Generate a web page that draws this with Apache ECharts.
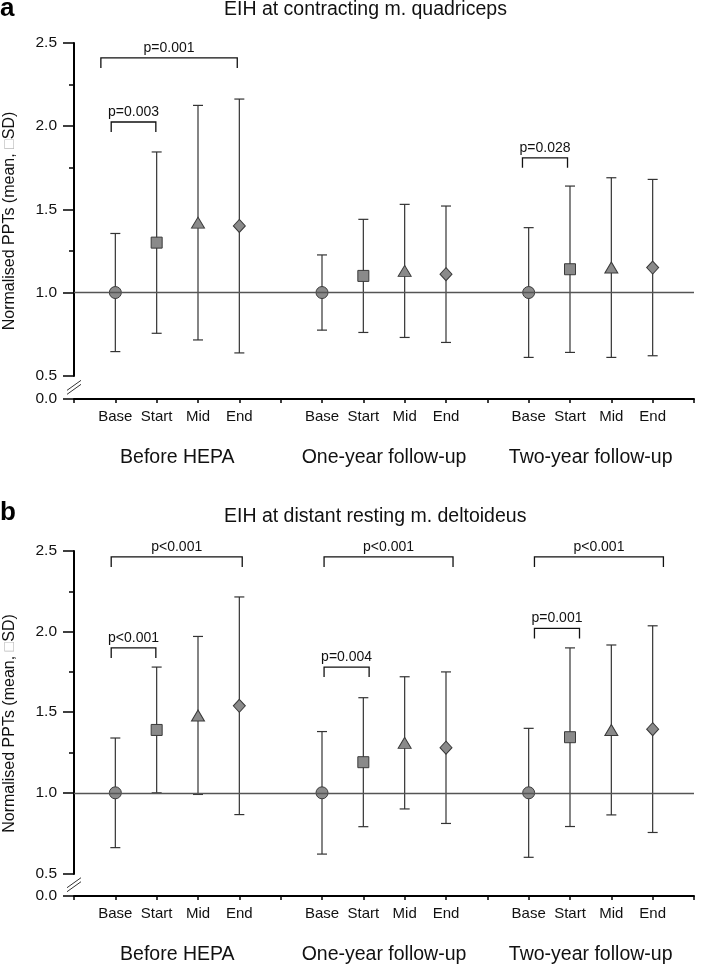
<!DOCTYPE html>
<html>
<head>
<meta charset="utf-8">
<script src="https://cdn.jsdelivr.net/npm/echarts@6/dist/echarts.min.js"></script>
<style>
  html, body { margin: 0; padding: 0; background: #fff; }
  #chart { width: 707px; height: 964px; }
</style>
</head>
<body>
<div id="chart"></div>
<script>
// x slots: 0..15, the measured points sit on 1-4, 6-9, 11-14
const groups = ['Before HEPA', 'One-year follow-up', 'Two-year follow-up'];
const timepoints = ['Base', 'Start', 'Mid', 'End'];
const xPos = [1, 2, 3, 4, 6, 7, 8, 9, 11, 12, 13, 14];
const tickLabels = ['', 'Base', 'Start', 'Mid', 'End', '', 'Base', 'Start', 'Mid', 'End', '', 'Base', 'Start', 'Mid', 'End', ''];
const shapes = ['circle', 'rect', 'triangle', 'diamond'];

// panel a: m. quadriceps
const quadMean = [1.00, 1.30, 1.42, 1.40, 1.00, 1.10, 1.13, 1.11, 1.00, 1.14, 1.15, 1.15];
const quadSD = [0.355, 0.545, 0.705, 0.763, 0.226, 0.34, 0.40, 0.41, 0.39, 0.50, 0.54, 0.53];
const quadBrackets = [[0.65, 3.95, 2.41], [0.9, 1.98, 2.025], [10.85, 11.94, 1.81]];
const quadPvals = ['p=0.001', 'p=0.003', 'p=0.028'];

// panel b: m. deltoideus
const deltMean = [1.00, 1.39, 1.48, 1.54, 1.00, 1.19, 1.31, 1.28, 1.00, 1.345, 1.39, 1.395];
const deltSD = [0.34, 0.39, 0.49, 0.675, 0.38, 0.40, 0.41, 0.47, 0.40, 0.554, 0.527, 0.641];
const deltBrackets = [[0.9, 4.07, 2.463], [0.9, 1.98, 1.899], [6.05, 9.17, 2.463], [6.05, 7.14, 1.78], [11.14, 14.26, 2.463], [11.14, 12.23, 2.02]];
const deltPvals = ['p<0.001', 'p<0.001', 'p<0.001', 'p=0.004', 'p<0.001', 'p=0.001'];

const FONT = 'Liberation Sans, Arial, sans-serif';
const chart = echarts.init(document.getElementById('chart'));

function errorBar(params, api) {
  const x = api.value(0);
  const top = api.coord([x, api.value(2)]);
  const bot = api.coord([x, api.value(1)]);
  const hw = 5;
  const style = { stroke: '#333', lineWidth: 1.2 };
  return {
    type: 'group',
    children: [
      { type: 'line', shape: { x1: top[0], y1: top[1], x2: bot[0], y2: bot[1] }, style },
      { type: 'line', shape: { x1: top[0] - hw, y1: top[1], x2: top[0] + hw, y2: top[1] }, style },
      { type: 'line', shape: { x1: bot[0] - hw, y1: bot[1], x2: bot[0] + hw, y2: bot[1] }, style }
    ]
  };
}

function bracketRenderer(labels) {
  return function (params, api) {
    const y = api.value(2);
    const p1 = api.coord([api.value(0), y]);
    const p2 = api.coord([api.value(1), y]);
    const leg = 10;
    return {
      type: 'group',
      children: [
        {
          type: 'polyline',
          shape: { points: [[p1[0], p1[1] + leg], p1, p2, [p2[0], p2[1] + leg]] },
          style: { stroke: '#111', lineWidth: 1.3, fill: null }
        },
        {
          type: 'text',
          style: {
            x: (p1[0] + p2[0]) / 2, y: p1[1] - 3,
            text: labels[params.dataIndex],
            align: 'center', verticalAlign: 'bottom',
            fontSize: 14, fontFamily: FONT, fill: '#111'
          }
        }
      ]
    };
  };
}

function symbolSize(val, params) {
  return [[12, 12], [11, 11], [13, 11], [12, 13]][params.dataIndex % 4];
}

function panelAxes(gi) {
  const x = {
    type: 'value', gridIndex: gi, min: 0, max: 15, interval: 1,
    axisLine: { lineStyle: { color: '#000', width: 2 } },
    axisTick: { length: 4, lineStyle: { color: '#000', width: 1.5 } },
    splitLine: { show: false },
    axisLabel: {
      formatter: v => tickLabels[v] || '', margin: 10,
      fontSize: 15, fontFamily: FONT, color: '#111'
    }
  };
  const xg = {
    type: 'category', gridIndex: gi, data: groups, position: 'bottom',
    axisLine: { show: false }, axisTick: { show: false },
    axisLabel: { interval: 0, hideOverlap: false, margin: 49, fontSize: 19.5, fontFamily: FONT, color: '#111' }
  };
  const y = {
    type: 'value', gridIndex: gi, min: 0, max: 2.5, interval: 0.5,
    breaks: [{ start: 0, end: 0.5, gap: 0.14 }],
    breakArea: { show: false },
    name: 'Normalised PPTs (mean, {box|\u25A1}SD)',
    nameLocation: 'middle', nameGap: 56,
    nameTextStyle: { fontSize: 16, fontFamily: FONT, color: '#111', rich: { box: { fontSize: 16, color: '#bbb', fontFamily: FONT } } },
    axisLine: { show: true, lineStyle: { color: '#000', width: 2 } },
    axisTick: { show: true, length: 11, lineStyle: { color: '#000', width: 1.5 } },
    minorTick: { show: true, splitNumber: 2, length: 5, lineStyle: { color: '#000', width: 1.5 } },
    splitLine: { show: false },
    axisLabel: {
      formatter: v => v.toFixed(1), margin: 17,
      fontSize: 15.5, fontFamily: FONT, color: '#111'
    }
  };
  return { x, xg, y };
}

function panelSeries(gi, mean, sd, brackets, pvals) {
  return [
    {
      type: 'custom', xAxisIndex: gi * 2, yAxisIndex: gi, z: 2,
      renderItem: errorBar,
      encode: { x: 0, y: [1, 2] },
      data: xPos.map((x, i) => [x, mean[i] - sd[i], mean[i] + sd[i]]),
      markLine: {
        silent: true, symbol: 'none', label: { show: false },
        lineStyle: { color: '#555', width: 1.3, type: 'solid' },
        data: [{ yAxis: 1 }]
      }
    },
    {
      type: 'scatter', xAxisIndex: gi * 2, yAxisIndex: gi, z: 3,
      symbol: (val, params) => shapes[params.dataIndex % 4],
      symbolSize: symbolSize,
      itemStyle: { color: '#8a8a8a', borderColor: '#3a3a3a', borderWidth: 1, opacity: 1 },
      data: xPos.map((x, i) => [x, mean[i]])
    },
    {
      type: 'custom', xAxisIndex: gi * 2, yAxisIndex: gi, z: 2,
      renderItem: bracketRenderer(pvals),
      encode: { x: [0, 1], y: 2 },
      data: brackets
    }
  ];
}

const A = panelAxes(0);
const B = panelAxes(1);

chart.setOption({
  animation: false,
  textStyle: { fontFamily: FONT },
  title: [
    { text: 'a', left: 0, top: -4, padding: 0, textStyle: { fontSize: 26, fontWeight: 'bold', color: '#000', fontFamily: FONT } },
    { text: 'EIH at contracting m. quadriceps', left: 224, top: 0, padding: 0, textStyle: { fontSize: 19.5, fontWeight: 'normal', color: '#111', fontFamily: FONT } },
    { text: 'b', left: 0, top: 500, padding: 0, textStyle: { fontSize: 26, fontWeight: 'bold', color: '#000', fontFamily: FONT } },
    { text: 'EIH at distant resting m. deltoideus', left: 224, top: 507, padding: 0, textStyle: { fontSize: 19.5, fontWeight: 'normal', color: '#111', fontFamily: FONT } }
  ],
  grid: [
    { left: 74, right: 13, top: 43, height: 356, containLabel: false, outerBoundsMode: 'none' },
    { left: 74, right: 13, top: 551, height: 345, containLabel: false, outerBoundsMode: 'none' }
  ],
  xAxis: [A.x, A.xg, B.x, B.xg],
  yAxis: [A.y, B.y],
  series: [
    ...panelSeries(0, quadMean, quadSD, quadBrackets, quadPvals),
    ...panelSeries(1, deltMean, deltSD, deltBrackets, deltPvals)
  ]
});

// draw the "//" axis-break marks on each y axis between 0.0 and 0.5
const marks = [];
[0, 1].forEach(gi => {
  const p0 = chart.convertToPixel({ xAxisIndex: gi * 2, yAxisIndex: gi }, [0, 0]);
  const p5 = chart.convertToPixel({ xAxisIndex: gi * 2, yAxisIndex: gi }, [0, 0.5]);
  const cx = p0[0], cy = (p0[1] + p5[1]) / 2;
  marks.push({ type: 'rect', shape: { x: cx - 2, y: cy - 3, width: 4, height: 6 }, style: { fill: '#fff' }, z: 100 });
  [-2, 2].forEach(d => {
    marks.push({
      type: 'line', z: 101,
      shape: { x1: cx - 7, y1: cy + d + 5, x2: cx + 7, y2: cy + d - 5 },
      style: { stroke: '#333', lineWidth: 1 }
    });
  });
});
chart.setOption({ graphic: marks });
</script>
</body>
</html>
